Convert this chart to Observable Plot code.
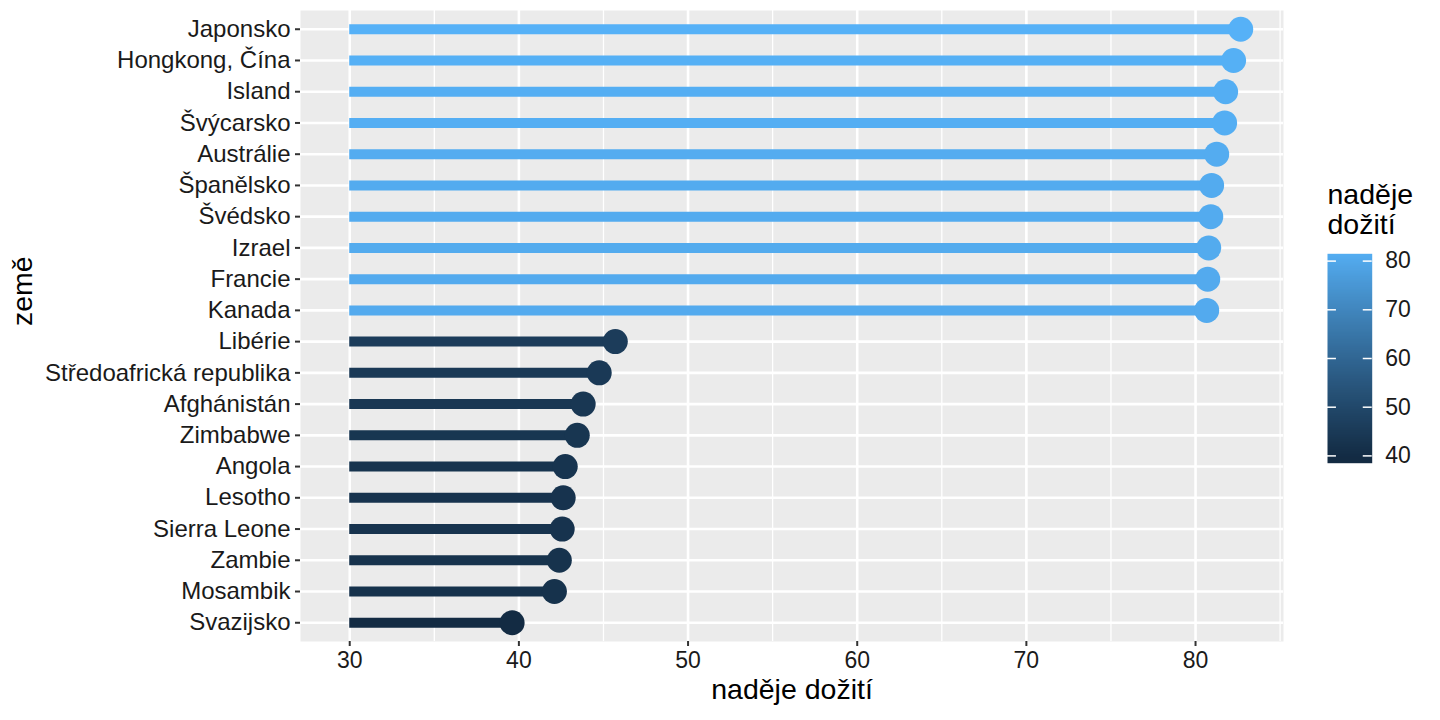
<!DOCTYPE html>
<html>
<head>
<meta charset="utf-8">
<script src="https://cdn.jsdelivr.net/npm/d3@7"></script>
<script src="https://cdn.jsdelivr.net/npm/@observablehq/plot@0.6"></script>
<style>
  html, body { margin: 0; padding: 0; background: #fff; }
  #wrap { position: relative; width: 1440px; height: 720px; font-family: "Liberation Sans", Arial, sans-serif; }
  #legend { position: absolute; left: 1290px; top: 180px; }
</style>
</head>
<body>
<div id="wrap"><div id="chart"></div><div id="legend"></div></div>
<script>
const countries = ["Japonsko", "Hongkong, Čína", "Island", "Švýcarsko", "Austrálie", "Španělsko", "Švédsko", "Izrael", "Francie", "Kanada",
  "Libérie", "Středoafrická republika", "Afghánistán", "Zimbabwe", "Angola", "Lesotho", "Sierra Leone", "Zambie", "Mosambik", "Svazijsko"];
const lifeExp = [82.67, 82.25, 81.78, 81.72, 81.25, 80.95, 80.90, 80.78, 80.72, 80.66,
  45.70, 44.75, 43.80, 43.45, 42.74, 42.62, 42.56, 42.39, 42.10, 39.60];
const baseline = 30;
const xTicks = [30, 40, 50, 60, 70, 80];
const xMinor = [35, 45, 55, 65, 75, 85];
const legendTicks = [40, 50, 60, 70, 80];
const xTitle = "naděje dožití";
const yTitle = "země";
const legendTitle = "naděje\ndožití";

const data = countries.map((c, i) => ({country: c, value: lifeExp[i]}));
const ext = d3.extent(lifeExp);
const colorOpts = {type: "linear", domain: ext, range: ["#132B43", "#56B1F7"], interpolate: d3.interpolateLab, clamp: true};
const font = "Liberation Sans, Arial, sans-serif";

const chart = Plot.plot({
  width: 1440, height: 720,
  marginLeft: 300, marginRight: 157, marginTop: 10, marginBottom: 79,
  style: {fontFamily: font, background: "#fff", overflow: "visible"},
  x: {domain: [27.09, 85.2]},
  y: {type: "point", domain: countries, padding: 0.6, round: false},
  color: colorOpts,
  marks: [
    Plot.frame({fill: "#EBEBEB", stroke: null}),
    Plot.ruleX(xMinor, {stroke: "#fff", strokeWidth: 1.3}),
    Plot.ruleX(xTicks, {stroke: "#fff", strokeWidth: 2.6}),
    Plot.ruleY(countries, {stroke: "#fff", strokeWidth: 2.6}),
    Plot.ruleY(data, {y: "country", x1: baseline, x2: "value", stroke: "value", strokeWidth: 10}),
    Plot.dot(data, {x: "value", y: "country", fill: "value", r: 12.5, stroke: null}),
    Plot.axisX({ticks: xTicks, tickSize: 5, tickPadding: 5, fontSize: 23, stroke: "#333", strokeWidth: 2, fill: "#1a1a1a", label: null}),
    Plot.axisY({tickSize: 5, tickPadding: 5, fontSize: 24, stroke: "#333", strokeWidth: 2, fill: "#1a1a1a", label: null}),
    Plot.text([xTitle], {frameAnchor: "bottom", dy: 57, fontSize: 28.5, fill: "#000"}),
    Plot.text([yTitle], {frameAnchor: "left", dx: -278, rotate: -90, fontSize: 28.5, fill: "#000"})
  ]
});
document.getElementById("chart").appendChild(chart);

const legend = Plot.plot({
  width: 150, height: 300,
  marginLeft: 37, marginRight: 68.3, marginTop: 73.3, marginBottom: 17.3,
  style: {fontFamily: font, background: "transparent", overflow: "visible"},
  x: {domain: [0, 1], axis: null},
  y: {domain: [38.5, 81.5], axis: null},
  color: colorOpts,
  marks: [
    Plot.raster({x1: 0, x2: 1, y1: 38.5, y2: 81.5, width: 1, height: 60, fill: (x, y) => y}),
    Plot.ruleY(legendTicks, {x1: 0, x2: 0.2, stroke: "#fff", strokeWidth: 1.5}),
    Plot.ruleY(legendTicks, {x1: 0.8, x2: 1, stroke: "#fff", strokeWidth: 1.5}),
    Plot.text(legendTicks, {x: 1, y: d => d, dx: 13, textAnchor: "start", fontSize: 23, fill: "#1a1a1a"}),
    Plot.text([legendTitle], {frameAnchor: "top-left", dy: -71, textAnchor: "start", lineAnchor: "top", lineHeight: 1.05, fontSize: 28.5, fill: "#000"})
  ]
});
document.getElementById("legend").appendChild(legend);
</script>
</body>
</html>
